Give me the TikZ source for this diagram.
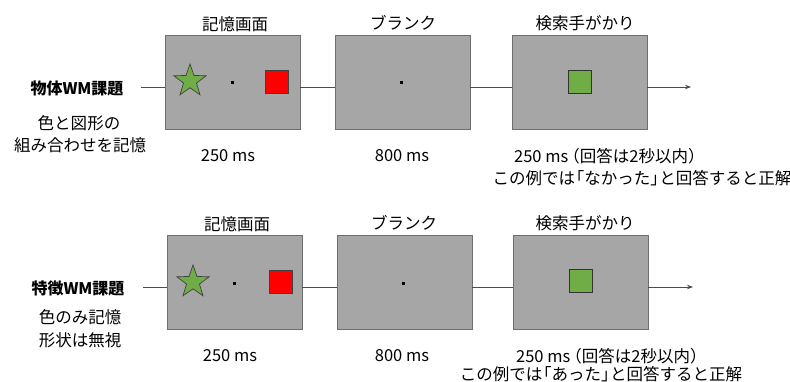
\documentclass[tikz,border=0pt]{standalone}
\usepackage{fontspec}
\setmainfont{Noto Sans CJK JP}
\usetikzlibrary{shapes.geometric,arrows.meta}
\definecolor{boxgray}{HTML}{A6A6A6}
\definecolor{boxline}{HTML}{6E6E6E}
\definecolor{stargreen}{HTML}{70AD47}
\definecolor{sqred}{HTML}{FF0000}
\newcommand\jlbk{\kern-0.45em「}
\newcommand\jrbk{」\kern-0.45em}
\newcommand\jlpr{\kern-0.3em（}
\newcommand\jrpr{）\kern-0.4em}
\tikzset{
  screen/.style={draw=boxline, fill=boxgray, minimum width=135pt, minimum height=94pt, inner sep=0pt, line width=0.9pt},
  conn/.style={draw=black!70, line width=0.8pt},
  txt/.style={inner sep=0pt, font=\fontsize{16.5}{19}\selectfont},
  task/.style={inner sep=0pt, font=\fontsize{16}{19}\selectfont\bfseries},
  starshape/.style={star, star points=5, star point ratio=2.5, minimum size=34pt, inner sep=0pt, fill=stargreen, draw=black!75, line width=0.7pt},
  redsq/.style={rectangle, minimum size=23pt, inner sep=0pt, fill=sqred, draw=black!75, line width=0.7pt},
  greensq/.style={rectangle, minimum size=23pt, inner sep=0pt, fill=stargreen, draw=black!80, line width=0.7pt},
  fix/.style={rectangle, minimum size=3pt, inner sep=0pt, fill=black}
}
\begin{document}
\begin{tikzpicture}[x=1pt,y=-1pt]
\useasboundingbox (0,0) rectangle (790,382);
% ---------- row 1 ----------
\node[screen] (a1) at (232.5,82) {};
\node[screen] (b1) at (402.5,82) {};
\node[screen] (c1) at (579.5,82.5) {};
\node[txt] (ta1) at (235,24) {記憶画面};
\node[txt] (tb1) at (403,23) {ブランク};
\node[txt] (tc1) at (585,23) {検索手がかり};
\node[starshape] (s1) at (190,81) {};
\node[fix] (d1) at (232,83) {};
\node[redsq] (r1) at (277,81.5) {};
\node[fix] (e1) at (401,83) {};
\node[greensq] (g1) at (579.5,81.5) {};
\node[task] (l1) at (77,88) {物体WM課題};
\node[txt] (m1) at (79,123) {色と図形の};
\node[txt] (n1) at (80,145) {組み合わせを記憶};
\node[txt] (p1) at (228,156) {250 ms};
\node[txt] (q1) at (402,156) {800 ms};
\node[txt] (u1) at (606,156) {250 ms\jlpr 回答は2秒以内\jrpr};
\node[txt] (v1) at (642,178) {この例では\jlbk なかった\jrbk と回答すると正解};
\coordinate (st1) at (141,87);
\coordinate (en1) at (691,87);
\draw[conn] (st1) -- (st1 -| a1.west);
\draw[conn] (st1 -| a1.east) -- (st1 -| b1.west);
\draw[conn] (st1 -| b1.east) -- (st1 -| c1.west);
\draw[conn, -{Stealth[length=6pt,width=4.5pt]}] (st1 -| c1.east) -- (en1);
% ---------- row 2 ----------
\node[screen] (a2) at (234.5,282) {};
\node[screen] (b2) at (404.5,282) {};
\node[screen] (c2) at (580.5,282) {};
\node[txt] (ta2) at (237,224) {記憶画面};
\node[txt] (tb2) at (404,223) {ブランク};
\node[txt] (tc2) at (585,223) {検索手がかり};
\node[starshape] (s2) at (193,282) {};
\node[fix] (d2) at (234,283) {};
\node[redsq] (r2) at (280.5,282) {};
\node[fix] (e2) at (403,283) {};
\node[greensq] (g2) at (581,280.5) {};
\node[task] (l2) at (78,288) {特徴WM課題};
\node[txt] (m2) at (80,317) {色のみ記憶};
\node[txt] (n2) at (80,340) {形状は無視};
\node[txt] (p2) at (230,356) {250 ms};
\node[txt] (q2) at (402,356) {800 ms};
\node[txt] (u2) at (608,356) {250 ms\jlpr 回答は2秒以内\jrpr};
\node[txt] (v2) at (601,374) {この例では\jlbk あった\jrbk と回答すると正解};
\coordinate (st2) at (143,287);
\coordinate (en2) at (693,287);
\draw[conn] (st2) -- (st2 -| a2.west);
\draw[conn] (st2 -| a2.east) -- (st2 -| b2.west);
\draw[conn] (st2 -| b2.east) -- (st2 -| c2.west);
\draw[conn, -{Stealth[length=6pt,width=4.5pt]}] (st2 -| c2.east) -- (en2);
\end{tikzpicture}
\end{document}
